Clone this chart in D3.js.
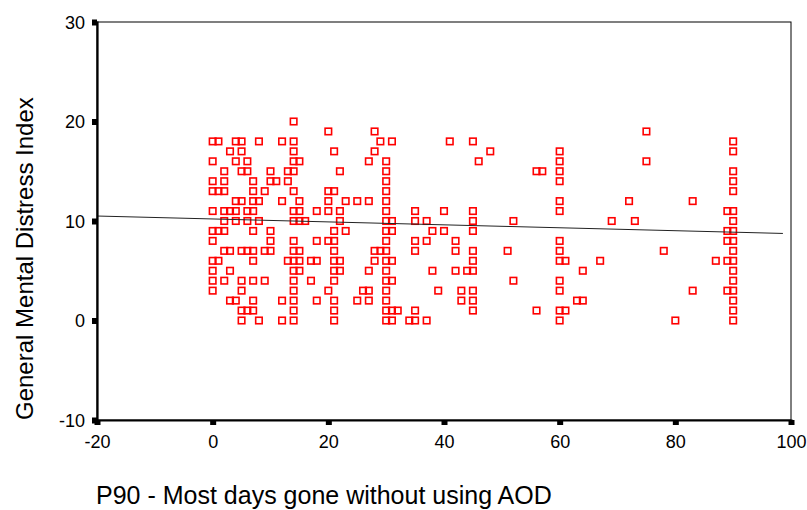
<!DOCTYPE html>
<html>
<head>
<meta charset="utf-8">
<script src="https://cdn.jsdelivr.net/npm/d3@7"></script>
<style>
  body { margin: 0; background: #fff; }
  text { font-family: Arial, "Liberation Sans", sans-serif; fill: #000; }
</style>
</head>
<body>
<svg width="807" height="510"></svg>
<script>
// rows of the scatter: each entry is one y value (distress index) with the x values (days) read at that level
var yLevels = [20, 19, 18, 17, 16, 15, 14, 13, 12, 11, 10, 9, 8, 7, 6, 5, 4, 3, 2, 1, 0];
var daysAtLevel = [
  [14],
  [20, 28, 75],
  [0, 1, 4, 5, 8, 12, 14, 29, 31, 41, 45, 90],
  [3, 5, 14, 21, 28, 48, 60, 90],
  [0, 4, 6, 14, 15, 27, 30, 46, 60, 75],
  [2, 5, 6, 10, 13, 14, 22, 30, 56, 57, 60, 90],
  [0, 2, 7, 10, 11, 13, 30, 60, 90],
  [0, 1, 2, 7, 9, 14, 20, 21, 30, 90],
  [4, 5, 7, 8, 12, 15, 20, 23, 25, 27, 30, 60, 72, 83],
  [0, 2, 3, 4, 6, 7, 14, 15, 18, 20, 22, 30, 35, 40, 45, 60, 89, 90],
  [2, 4, 6, 8, 14, 15, 16, 22, 30, 31, 35, 37, 45, 52, 69, 73, 90],
  [0, 1, 2, 7, 10, 21, 23, 30, 31, 38, 40, 45, 89, 90],
  [0, 10, 14, 18, 20, 21, 30, 35, 37, 42, 60, 89, 90],
  [2, 3, 5, 6, 7, 9, 10, 14, 15, 21, 28, 29, 30, 35, 42, 45, 51, 60, 78, 90],
  [0, 1, 7, 13, 14, 15, 17, 18, 21, 22, 28, 30, 31, 45, 60, 61, 67, 87, 89, 90],
  [0, 3, 14, 15, 21, 22, 27, 30, 38, 42, 44, 45, 64, 90],
  [0, 2, 5, 7, 9, 14, 17, 21, 30, 31, 52, 60, 90],
  [0, 5, 14, 20, 26, 27, 30, 39, 43, 45, 60, 83, 89, 90],
  [3, 4, 7, 12, 14, 18, 21, 25, 27, 30, 43, 45, 63, 64, 90],
  [5, 6, 7, 14, 21, 30, 31, 32, 35, 45, 56, 60, 61, 90],
  [5, 8, 12, 14, 21, 30, 31, 34, 35, 37, 60, 80, 90]
];

// fit line end points (x, y)
var fitX = [-20, 98.6];
var fitY = [10.5, 8.75];

var xTicks = [-20, 0, 20, 40, 60, 80, 100];
var yTicks = [-10, 0, 10, 20, 30];

var xTitle = "P90 - Most days gone without using AOD";
var yTitle = "General Mental Distress Index";

var svg = d3.select("svg"),
  margin = {top: 22, right: 16, bottom: 90, left: 97},
  width = +svg.attr("width") - margin.left - margin.right,
  height = +svg.attr("height") - margin.top - margin.bottom;

var x = d3.scaleLinear().domain([-20, 100]).range([0, width]);
var y = d3.scaleLinear().domain([-10, 30]).range([height, 0]);

var g = svg.append("g").attr("transform", "translate(" + margin.left + "," + margin.top + ")");

// thin frame
g.append("rect")
  .attr("width", width)
  .attr("height", height)
  .attr("fill", "none")
  .attr("stroke", "#000")
  .attr("stroke-width", 1);

var points = [];
yLevels.forEach(function(v, i) {
  daysAtLevel[i].forEach(function(dx) { points.push({x: dx, y: v}); });
});

var s = 6.5;
g.append("g")
  .selectAll("rect")
  .data(points)
  .enter()
  .append("rect")
  .attr("x", function(d) { return x(d.x) - s / 2; })
  .attr("y", function(d) { return y(d.y) - s / 2; })
  .attr("width", s)
  .attr("height", s)
  .attr("fill", "none")
  .attr("stroke", "#ff0000")
  .attr("stroke-width", 1.6);

// regression line
g.append("line")
  .attr("x1", x(fitX[0])).attr("y1", y(fitY[0]))
  .attr("x2", x(fitX[1])).attr("y2", y(fitY[1]))
  .attr("stroke", "#222")
  .attr("stroke-width", 1);

var fmt = function(d) { return String(d); };

var xAxis = g.append("g")
  .attr("transform", "translate(0," + height + ")")
  .call(d3.axisBottom(x).tickValues(xTicks).tickSize(5).tickPadding(6).tickFormat(fmt));

var yAxis = g.append("g")
  .call(d3.axisLeft(y).tickValues(yTicks).tickSize(5).tickPadding(7).tickFormat(fmt));

[xAxis, yAxis].forEach(function(a) {
  a.select(".domain").attr("stroke", "#000").attr("stroke-width", 2.2);
  a.selectAll(".tick line").attr("stroke", "#000").attr("stroke-width", 6);
  a.selectAll(".tick text")
    .attr("font-size", 18)
    .attr("font-family", "Arial, 'Liberation Sans', sans-serif")
    .attr("fill", "#000");
});
xAxis.selectAll(".tick text").attr("dy", "0.95em");
yAxis.selectAll(".tick text").attr("dy", "0.35em");

svg.append("text")
  .attr("x", 96)
  .attr("y", 504)
  .attr("font-size", 25)
  .text(xTitle);

svg.append("text")
  .attr("transform", "translate(33,420) rotate(-90)")
  .attr("font-size", 24)
  .text(yTitle);
</script>
</body>
</html>
